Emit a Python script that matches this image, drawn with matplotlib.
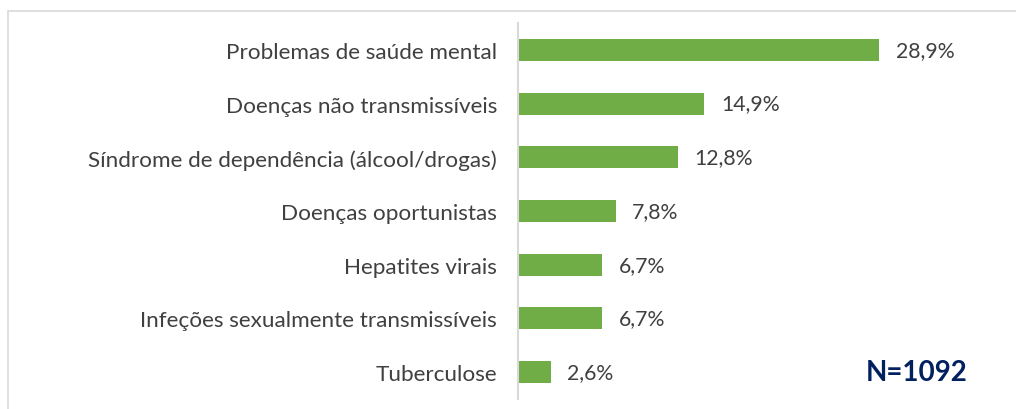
import matplotlib
matplotlib.use("Agg")
import matplotlib.pyplot as plt
from matplotlib.patches import Rectangle

categories = [
    "Problemas de saúde mental",
    "Doenças não transmissíveis",
    "Síndrome de dependência (álcool/drogas)",
    "Doenças oportunistas",
    "Hepatites virais",
    "Infeções sexualmente transmissíveis",
    "Tuberculose",
]
values = [28.9, 14.9, 12.8, 7.8, 6.7, 6.7, 2.6]
value_labels = ["28,9%", "14,9%", "12,8%", "7,8%", "6,7%", "6,7%", "2,6%"]
sample_note = "N=1092"

plt.rcParams["font.family"] = ["Lato", "DejaVu Sans"]

W, H = 1016, 410
fig = plt.figure(figsize=(W / 100, H / 100), dpi=100)

# light frame (only top/left visible in the source crop)
fig.patches.append(Rectangle((8 / W, -0.1), 1.2, 1.1 - 12 / H,
                             transform=fig.transFigure, fill=False,
                             edgecolor="#d9d9d9", linewidth=1.2))

ax = fig.add_axes([518 / W, 1 - 400 / H, 400 / W, 376 / H])

ypos = list(range(len(categories)))
ax.barh(ypos, values, height=0.41, color="#70AD47")
ax.set_ylim(len(categories) - 0.5, -0.5)
ax.set_xlim(0, 32)

for y, v, lab in zip(ypos, values, value_labels):
    ax.annotate(lab, (v, y), xytext=(12, 0), textcoords="offset points",
                ha="left", va="center", fontsize=15.3, color="#404040")

ax.set_yticks(ypos)
ax.set_yticklabels(categories, fontsize=16.2, color="#404040")
ax.tick_params(axis="y", length=0, pad=15)
ax.set_xticks([])
for side in ["top", "right", "bottom"]:
    ax.spines[side].set_visible(False)
ax.spines["left"].set_color("#d9d9d9")
ax.spines["left"].set_linewidth(1.5)

fig.text(917 / W, 1 - 373 / H, sample_note, ha="center", va="center",
         fontsize=20, fontweight="bold", color="#002060")

fig.savefig("out.png", dpi=100)
